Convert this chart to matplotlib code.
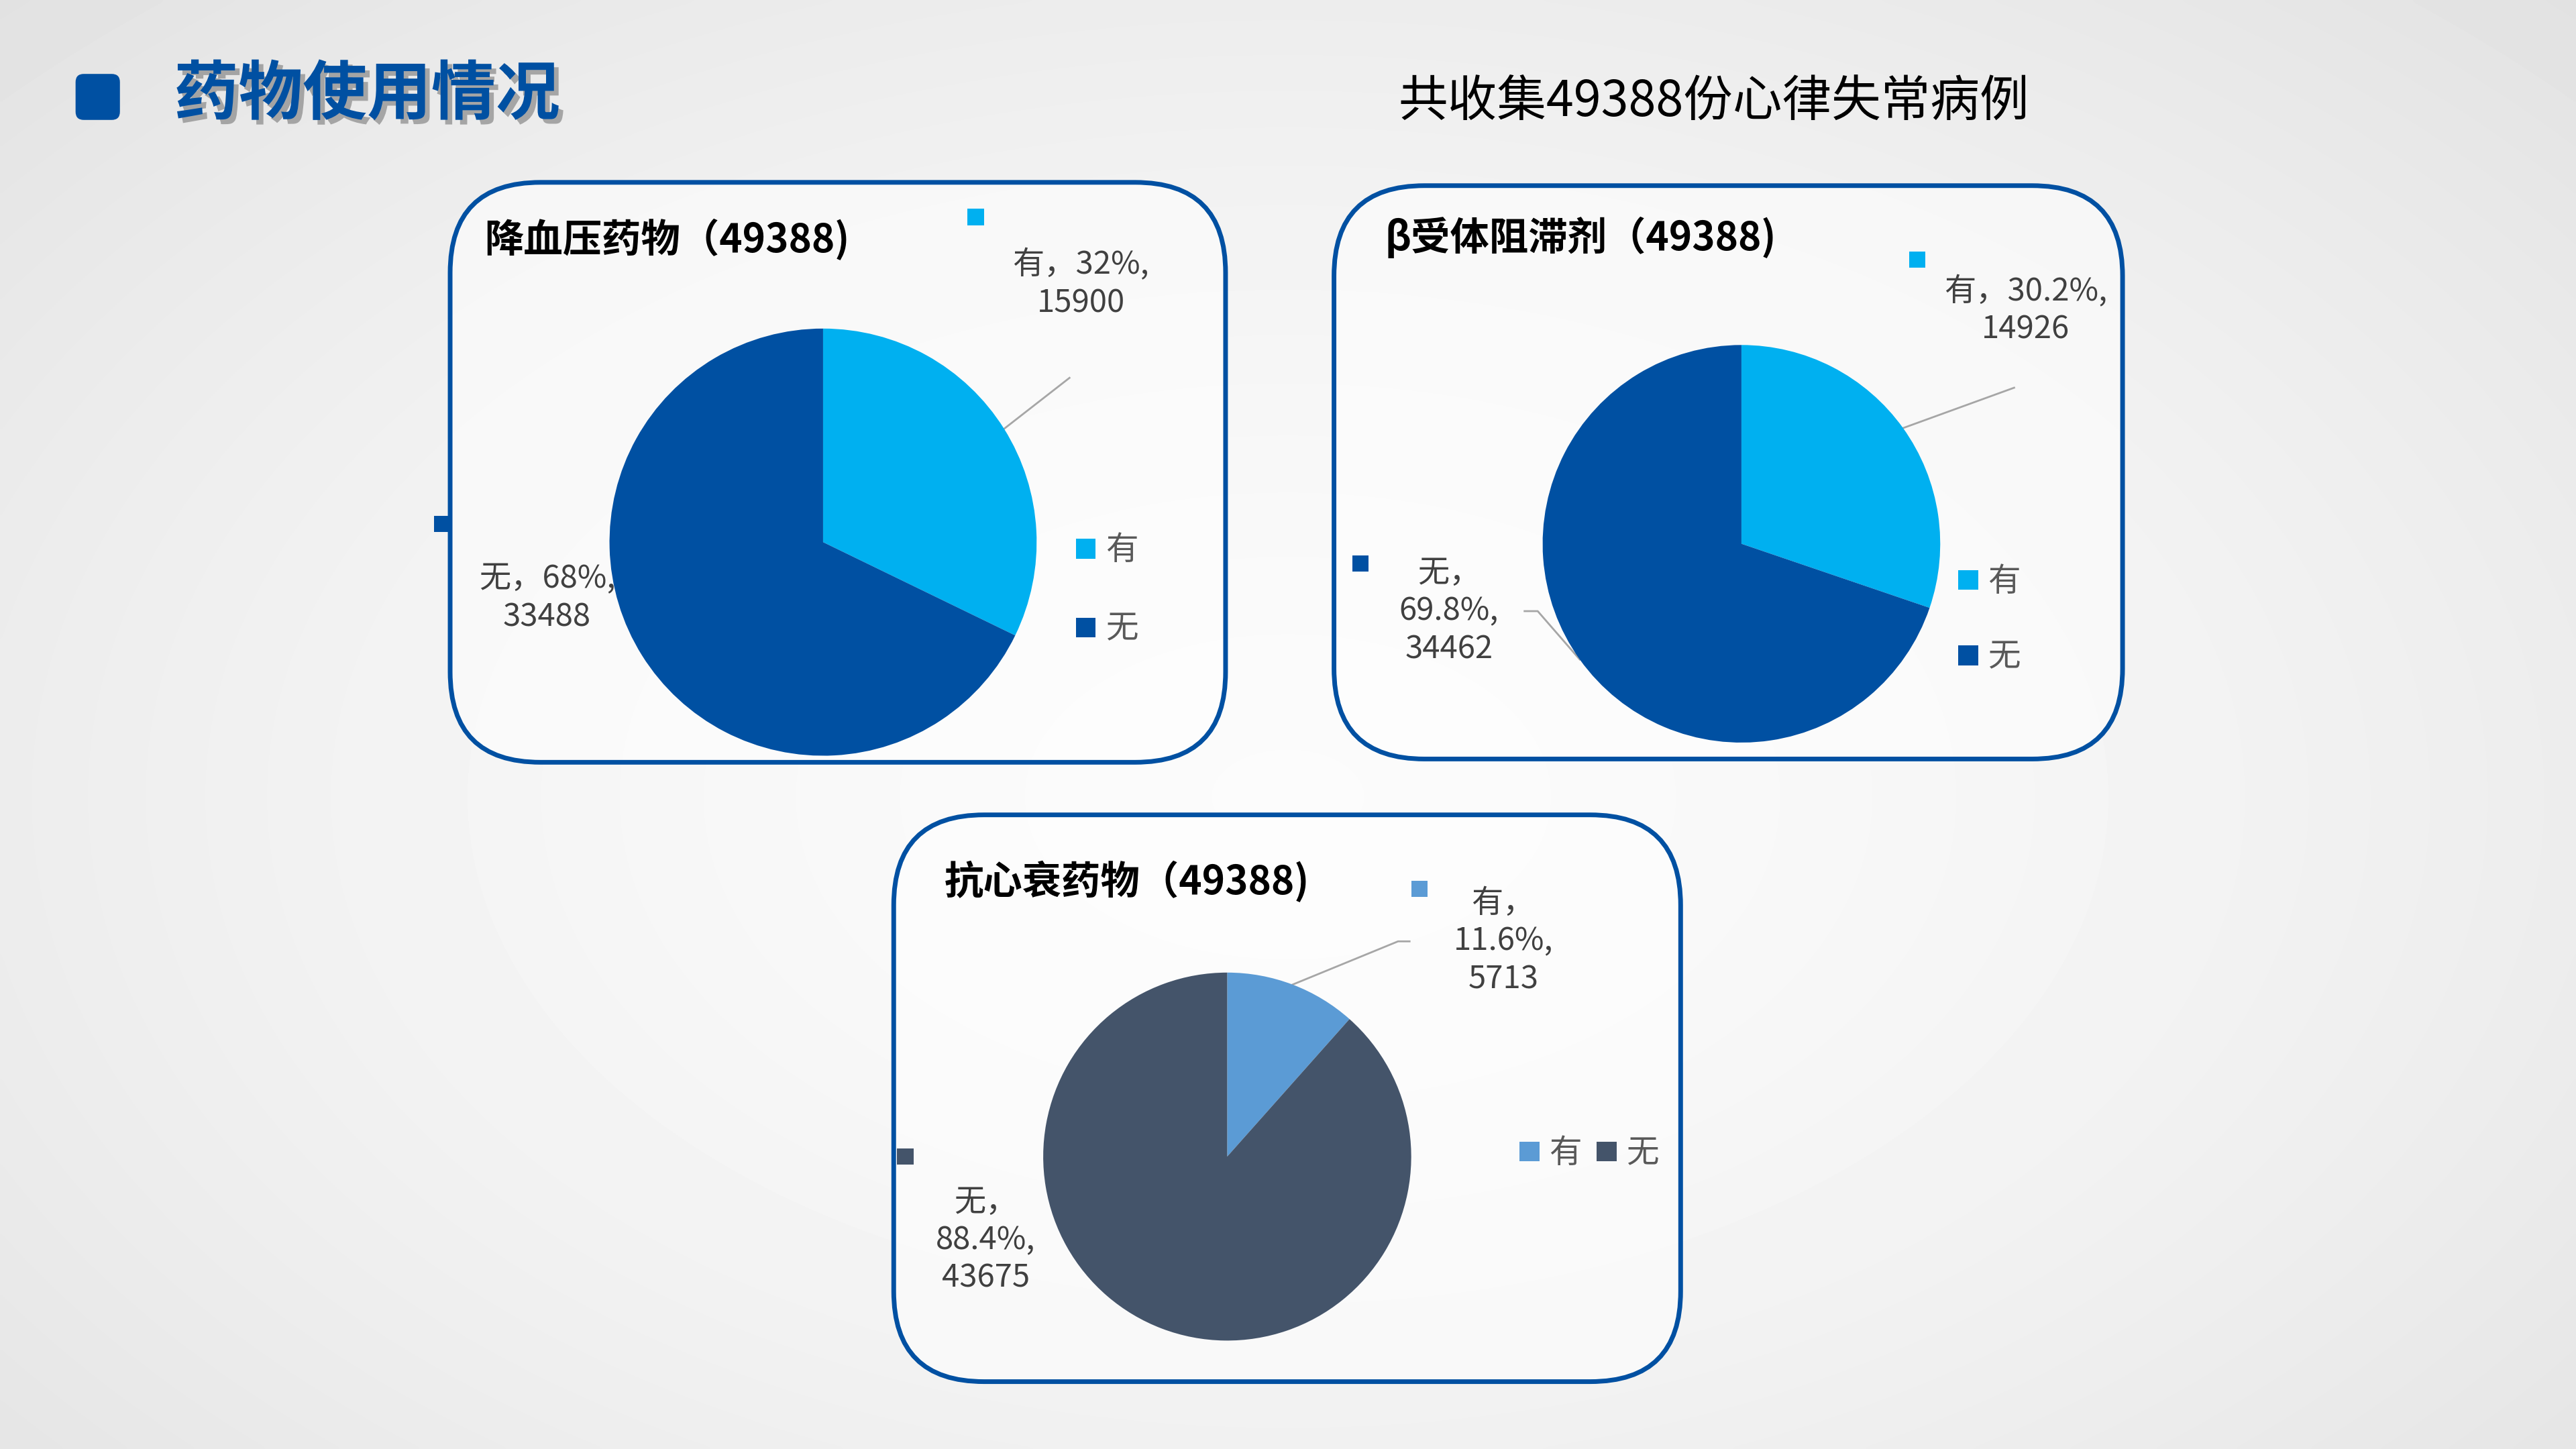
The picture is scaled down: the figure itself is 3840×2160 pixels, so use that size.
#!/usr/bin/env python3
"""
Drug usage pies (49388 arrhythmia cases), recreated as a slide-style figure.
"""
import numpy as np
import matplotlib
matplotlib.use('Agg')
import matplotlib.pyplot as plt
from matplotlib.patches import FancyBboxPatch, Rectangle
from matplotlib import patheffects as pe

plt.rcParams['font.family'] = ['Noto Sans CJK SC', 'DejaVu Sans']

# --- data -------------------------------------------------------------
categories = ['有', '无']
total = 49388
bp_counts = [15900, 33488]
bp_pct = ['32%', '68%']
beta_counts = [14926, 34462]
beta_pct = ['30.2%', '69.8%']
hf_counts = [5713, 43675]
hf_pct = ['11.6%', '88.4%']
chart_titles = ['降血压药物（49388)', 'β受体阻滞剂（49388)', '抗心衰药物（49388)']
page_title = '药物使用情况'
subtitle = '共收集49388份心律失常病例'

# layout works in a 1568 x 882 grid (scaled to the 3840 x 2160 output)
W, H = 1568, 882
BLUE = '#0050A2'

fig = plt.figure(figsize=(38.4, 21.6), dpi=100)
ax = fig.add_axes([0, 0, 1, 1])
ax.set_xlim(0, W)
ax.set_ylim(H, 0)
ax.axis('off')

# soft radial background
yy, xx = np.mgrid[0:1:400j, 0:1:712j]
d = np.sqrt(((xx - 0.5) / 0.5) ** 2 + ((yy - 0.55) / 0.55) ** 2) / np.sqrt(2)
bg = 0.985 - 0.10 * np.clip(d, 0, 1) ** 1.6
ax.imshow(bg, cmap='gray', vmin=0, vmax=1, extent=(0, W, H, 0),
          aspect='auto', zorder=0, interpolation='bicubic')

# header
ax.add_patch(FancyBboxPatch((46, 45), 27, 28, boxstyle='round,pad=0,rounding_size=5',
                            fc=BLUE, ec='none', zorder=2))
ax.text(106, 58, page_title, fontsize=69, fontweight='heavy', color=BLUE,
        va='center', ha='left', zorder=3,
        path_effects=[pe.withSimplePatchShadow(offset=(5, -5), shadow_rgbFace='#777777', alpha=0.6)])
ax.text(851, 62, subtitle, fontsize=53, color='black', va='center', ha='left', zorder=3)


def panel(box, title_xy, title):
	x0, y0, x1, y1 = box
	ax.add_patch(FancyBboxPatch((x0, y0), x1 - x0, y1 - y0,
	                            boxstyle='round,pad=0,rounding_size=55',
	                            fc='white', alpha=0.55, ec='none', zorder=1))
	ax.add_patch(FancyBboxPatch((x0, y0), x1 - x0, y1 - y0,
	                            boxstyle='round,pad=0,rounding_size=55',
	                            fc='none', ec=BLUE, lw=5, zorder=2))
	ax.text(title_xy[0], title_xy[1], title, fontsize=42, fontweight='bold',
	        color='black', va='center', ha='left', zorder=3)


def pie(center, r, counts, colors):
	cx, cy = center
	pax = fig.add_axes([(cx - r) / W, 1 - (cy + r) / H, 2 * r / W, 2 * r / H])
	wedges, _ = pax.pie(counts, colors=colors, startangle=90, counterclock=False,
	                    radius=1, wedgeprops=dict(linewidth=0))
	pax.set_xlim(-1, 1)
	pax.set_ylim(-1, 1)
	pax.set_aspect('equal')
	pax.axis('off')
	# mid-angle anchor point of each wedge, in layout units
	anchors = []
	for w in wedges:
		t = np.deg2rad((w.theta1 + w.theta2) / 2)
		anchors.append((cx + r * np.cos(t), cy - r * np.sin(t)))
	return anchors


def label(xy, text, key_xy, color):
	ax.text(xy[0], xy[1], text, fontsize=34, color='#404040', ha='center', va='center',
	        multialignment='center', linespacing=1.22, zorder=3)
	ax.add_patch(Rectangle((key_xy[0] - 5, key_xy[1] - 5), 10, 10, fc=color, ec='none', zorder=3))


def leader(points):
	xs, ys = zip(*points)
	ax.plot(xs, ys, color='#A6A6A6', lw=2, zorder=3)


def legend_key(xy, text, color):
	ax.add_patch(Rectangle((xy[0] - 6, xy[1] - 6), 12, 12, fc=color, ec='none', zorder=3))
	ax.text(xy[0] + 12, xy[1] + 1, text, fontsize=35, color='#595959', va='center',
	        ha='left', zorder=3)


# --- panel 1: antihypertensives ----------------------------------------
c1 = ['#00B0F0', '#0050A2']
panel((274, 111, 746, 464), (295, 146), chart_titles[0])
a = pie((501, 330), 130, bp_counts, c1)
leader([a[0], (651, 230)])
label((658, 173), '%s，%s,\n%d' % (categories[0], bp_pct[0], bp_counts[0]), (594, 132), c1[0])
label((333, 364), '%s，%s,\n%d' % (categories[1], bp_pct[1], bp_counts[1]), (269, 319), c1[1])
legend_key((661, 334), categories[0], c1[0])
legend_key((661, 382), categories[1], c1[1])

# --- panel 2: beta blockers ----------------------------------------------
panel((812, 113, 1292, 462), (843, 145), chart_titles[1])
a = pie((1060, 331), 121, beta_counts, c1)
leader([a[0], (1226, 236)])
leader([a[1], (936, 372), (928, 372)])
label((1233, 189), '%s，%s,\n%d' % (categories[0], beta_pct[0], beta_counts[0]), (1167, 158), c1[0])
label((882, 372), '%s，\n%s,\n%d' % (categories[1], beta_pct[1], beta_counts[1]), (828, 343), c1[1])
legend_key((1198, 353), categories[0], c1[0])
legend_key((1198, 399), categories[1], c1[1])

# --- panel 3: heart failure drugs -----------------------------------------
c3 = ['#5B9BD5', '#44546A']
panel((544, 496, 1023, 841), (575, 537), chart_titles[2])
a = pie((747, 704), 112, hf_counts, c3)
leader([a[0], (851, 573), (858, 573)])
label((915, 573), '%s，\n%s,\n%d' % (categories[0], hf_pct[0], hf_counts[0]), (864, 541), c3[0])
label((600, 755), '%s，\n%s,\n%d' % (categories[1], hf_pct[1], hf_counts[1]), (551, 704), c3[1])
legend_key((931, 701), categories[0], c3[0])
legend_key((978, 701), categories[1], c3[1])

fig.savefig('out.png', dpi=100)
